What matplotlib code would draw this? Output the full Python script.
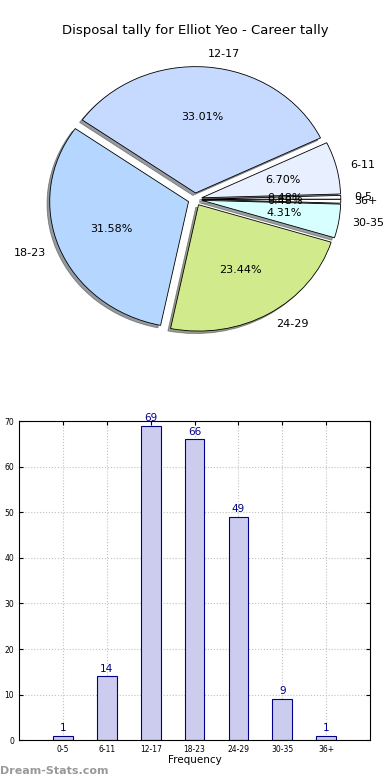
import matplotlib
matplotlib.use("Agg")
import matplotlib.pyplot as plt

# Disposal ranges and how many games fell in each
ranges = ["0-5", "6-11", "12-17", "18-23", "24-29", "30-35", "36+"]
games = [1, 14, 69, 66, 49, 9, 1]
pie_colors = ["#ffffff", "#e8efff", "#c6daff", "#b5d7ff", "#d1eb8c", "#d8ffff", "#ffffff"]

fig = plt.figure(figsize=(3.9, 7.8), dpi=100)

# Pie chart on top
ax1 = fig.add_axes([0.055, 0.542, 0.89, 0.405])
ax1.pie(games, labels=ranges, colors=pie_colors, autopct="%1.2f%%",
        explode=[0.05] * len(games),
        shadow={"ox": -0.014, "oy": -0.014, "shade": 0.75},
        wedgeprops={"edgecolor": "black", "linewidth": 0.6},
        textprops={"fontsize": 8})
ax1.set_aspect("auto")
ax1.set_xlim(-1.25, 1.25)
ax1.set_ylim(-1.25, 1.25)
fig.text(0.5, 0.961, "Disposal tally for Elliot Yeo - Career tally",
         ha="center", va="center", fontsize=9.5)

# Bar chart below
ax2 = fig.add_axes([0.049, 0.051, 0.9, 0.409])
pos = list(range(1, len(ranges) + 1))
bars = ax2.bar(pos, games, width=0.45, color="#ccccee", edgecolor="#000088",
               linewidth=0.8, zorder=2)
for b, v in zip(bars, games):
    ax2.text(b.get_x() + b.get_width() / 2, v + 0.6, str(v), ha="center",
             va="bottom", fontsize=7.5, color="#000088")
ax2.set_xlim(0, 8)
ax2.set_ylim(0, 70)
ax2.set_xticks(pos)
ax2.set_xticklabels(ranges)
ax2.set_yticks(range(0, 71, 10))
ax2.tick_params(labelsize=5.5, direction="in", length=3, top=True, right=True)
ax2.grid(True, linestyle=":", color="#c0c0c0", linewidth=0.8, zorder=3)
ax2.set_xlabel("Frequency", fontsize=7.5, labelpad=1)

fig.text(0.0, 0.005, "Dream-Stats.com", fontsize=8, color="#999999",
         fontweight="bold", ha="left", va="bottom")

fig.savefig("out.png", dpi=100)
